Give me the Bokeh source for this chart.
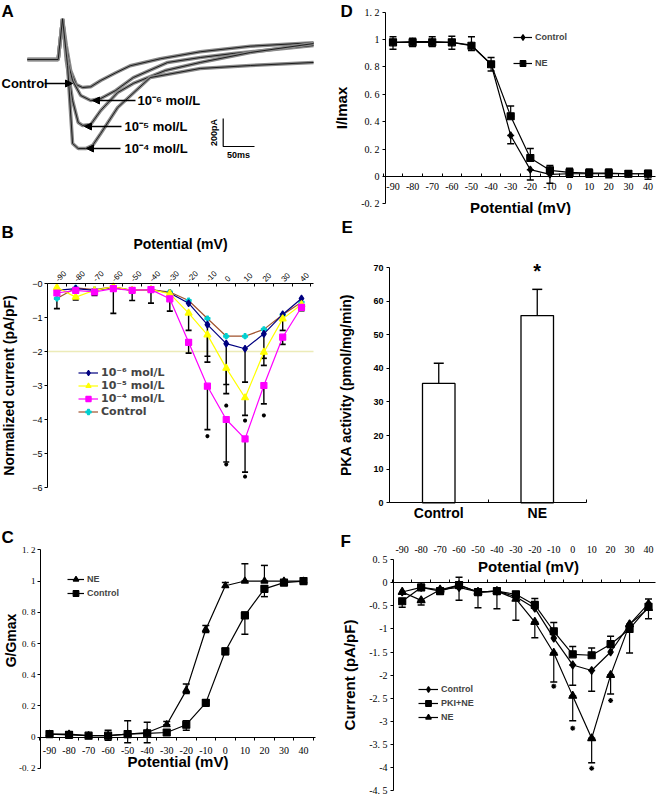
import math
from types import SimpleNamespace
from bokeh.plotting import figure
from bokeh.layouts import row, column
from bokeh.models import (Range1d, LinearAxis, FixedTicker, Label, Arrow, NormalHead,
                          Legend, LegendItem)
from bokeh.core.properties import value
from bokeh.embed import file_html
from bokeh.resources import INLINE

# ======================= DATA =======================
potentials = [-90, -80, -70, -60, -50, -40, -30, -20, -10, 0, 10, 20, 30, 40]
potential_labels = ["-90", "-80", "-70", "-60", "-50", "-40", "-30", "-20", "-10", "0", "10", "20", "30", "40"]
potential_bounds = [-95, -85, -75, -65, -55, -45, -35, -25, -15, -5, 5, 15, 25, 35, 45]

# Panel A: current traces (time ms, current pA)
a_names = ["Control", "10⁻⁶ mol/L", "10⁻⁵ mol/L", "10⁻⁴ mol/L"]
a_ctrl_t = [0, 49, 56, 62, 69, 78, 88, 101, 117, 141, 164, 212, 276, 356, 457]
a_ctrl_i = [0, 0, 290, 100, -80, -180, -200, -195, -150, -95, -45, 5, 55, 95, 120]
a_e6_t = [0, 49, 56, 62, 72, 85, 101, 117, 141, 169, 224, 276, 329, 457]
a_e6_i = [0, 0, 290, 29, -150, -257, -293, -279, -221, -129, -21, 14, 43, 100]
a_e5_t = [0, 49, 56, 62, 72, 81, 88, 101, 117, 144, 169, 220, 276, 356, 457]
a_e5_i = [0, 0, 290, -7, -293, -450, -471, -464, -364, -236, -171, -79, -21, 50, 114]
a_e4_t = [0, 49, 56, 64, 72, 81, 93, 104, 117, 144, 196, 276, 356, 457]
a_e4_i = [0, 0, 290, -43, -600, -636, -636, -614, -528, -343, -129, -64, -43, -21]
a_scale_ms = 50
a_scale_pA = 200

# Panel B: normalized current (pA/pF)
b_names = ["10⁻⁶ mol/L", "10⁻⁵ mol/L", "10⁻⁴ mol/L", "Control"]
b_e6 = [-0.2, -0.15, -0.2, -0.12, -0.2, -0.18, -0.28, -0.58, -1.21, -1.77, -1.92, -1.48, -0.91, -0.44]
b_e5 = [-0.12, -0.4, -0.2, -0.1, -0.2, -0.18, -0.3, -0.87, -1.51, -2.49, -3.36, -2.02, -1.04, -0.62]
b_e4 = [-0.28, -0.2, -0.25, -0.15, -0.2, -0.18, -0.45, -1.73, -3.02, -4.0, -4.57, -3.0, -1.58, -0.7]
b_ctrl = [-0.44, -0.13, -0.18, -0.1, -0.2, -0.18, -0.25, -0.5, -1.03, -1.55, -1.55, -1.35, -0.92, -0.55]
b_err_x = [-90, -80, -70, -60, -50, -40, -30, -20, -20, -10, -10, -10, 0, 0, 0, 10, 10, 10, 20, 20, 20, 30, 30, 40]
b_err_hi = [-0.44, -0.38, -0.2, -0.15, -0.2, -0.2, -0.45, -0.87, -1.73, -1.21, -1.51, -3.02, -1.77, -2.49, -4.0,
            -1.92, -3.36, -4.57, -1.48, -2.02, -3.0, -1.04, -1.58, -0.7]
b_err_lo = [-0.74, -0.48, -0.35, -0.88, -0.5, -0.58, -0.81, -1.38, -2.05, -2.14, -2.31, -4.3, -2.97, -3.24, -5.25,
            -2.9, -3.88, -5.55, -2.2, -2.41, -3.54, -1.38, -1.79, -0.8]
b_star_x = [-10, 0, 0, 10, 10, 20]
b_star_y = [-4.49, -3.59, -5.32, -4.03, -5.68, -3.88]
b_ref_level = -2
b_yticks = [0, -1, -2, -3, -4, -5, -6]
b_ytick_labels = ["−0", "−1", "−2", "−3", "−4", "−5", "−6"]

# Panel C: G/Gmax
c_ne = [0.02, 0.02, 0.01, 0.01, 0.02, 0.03, 0.08, 0.30, 0.69, 0.97, 1.0, 1.0, 1.0, 1.0]
c_ctrl = [0.02, 0.015, 0.01, 0.01, 0.02, 0.025, 0.03, 0.08, 0.22, 0.55, 0.78, 0.95, 0.99, 1.0]
c_err_x = [-60, -50, -40, -30, -20, -20, -10, -10, 0, 0, 10, 10, 20, 20]
c_err_hi = [0.045, 0.105, 0.095, 0.1, 0.34, 0.105, 0.715, 0.235, 0.99, 0.57, 1.11, 0.8, 1.1, 0.96]
c_err_lo = [-0.02, -0.035, -0.035, 0.08, 0.28, 0.045, 0.67, 0.21, 0.96, 0.53, 1.0, 0.66, 1.0, 0.9]
gi_ticks = [-0.2, 0.0, 0.2, 0.4, 0.6, 0.8, 1.0, 1.2]
gi_tick_labels = ["-0. 2", "0", "0. 2", "0. 4", "0. 6", "0. 8", "1", "1. 2"]

# Panel D: I/Imax
d_ctrl = [0.98, 0.985, 0.985, 0.98, 0.96, 0.82, 0.30, 0.05, 0.015, 0.02, 0.02, 0.02, 0.02, 0.02]
d_ne = [0.98, 0.98, 0.98, 0.98, 0.955, 0.82, 0.44, 0.135, 0.045, 0.03, 0.025, 0.025, 0.02, 0.02]
d_err_x = [-90, -80, -70, -60, -50, -40, -30, -30, -20, -20, -10, 0, 10, 20, 30, 40]
d_err_hi = [1.02, 1.01, 1.02, 1.025, 1.02, 0.87, 0.515, 0.30, 0.205, 0.05, 0.08, 0.06, 0.055, 0.055, 0.04, 0.045]
d_err_lo = [0.93, 0.95, 0.95, 0.93, 0.92, 0.77, 0.44, 0.24, 0.135, -0.025, -0.05, -0.005, -0.005, -0.01, 0.0, -0.02]

# Panel E: PKA activity
e_categories = ["Control", "NE"]
e_values = [35.5, 55.7]
e_errors = [6.0, 7.8]
e_star_category = "NE"
e_star_y = 69
e_yticks = [0, 10, 20, 30, 40, 50, 60, 70]

# Panel F: current (pA/pF)
f_ctrl = [-0.2, -0.1, -0.15, -0.1, -0.2, -0.18, -0.3, -0.55, -1.2, -1.78, -1.9, -1.5, -0.9, -0.45]
f_pki = [-0.4, -0.1, -0.18, -0.05, -0.2, -0.18, -0.25, -0.48, -1.05, -1.55, -1.57, -1.33, -1.0, -0.52]
f_ne = [-0.2, -0.38, -0.15, -0.05, -0.2, -0.18, -0.35, -0.85, -1.52, -2.45, -3.37, -2.0, -0.9, -0.55]
f_err_x = [-90, -80, -60, -50, -40, -30, -20, -20, -10, -10, 0, 0, 0, 10, 10, 10, 20, 20, 30, 40]
f_err_hi = [-0.4, -0.38, 0.12, -0.2, -0.18, -0.3, -0.34, -0.85, -0.86, -1.52, -1.38, -1.78, -2.45,
            -1.41, -1.9, -3.37, -1.16, -2.0, -0.9, -0.35]
f_err_lo = [-0.53, -0.48, -0.38, -0.54, -0.56, -0.81, -0.48, -1.19, -1.05, -2.15, -1.55, -2.22, -2.99,
            -1.57, -2.35, -3.9, -1.33, -2.41, -1.52, -0.78]
f_star_x = [-10, 0, 10, 20]
f_star_y = [-2.24, -3.15, -4.02, -2.55]
f_yticks = [0.5, 0.0, -0.5, -1.0, -1.5, -2.0, -2.5, -3.0, -3.5, -4.0, -4.5]
f_ytick_labels = ["0. 5", "0", "-0. 5", "-1", "-1. 5", "-2", "-2. 5", "-3", "-3. 5", "-4", "-4. 5"]

# ======================= LAYOUT HELPERS =======================
FONT = "Liberation Sans"
SERIF = "Liberation Serif"
LW, RW = 330, 326


def make_cal(ox, oy, W, H, xcal, ycal):
    (xv1, xr1), (xv2, xr2) = xcal
    (yv1, yr1), (yv2, yr2) = ycal
    lx = lambda r: r - ox
    ly = lambda r: r - oy
    sx = (xv2 - xv1) / (lx(xr2) - lx(xr1))
    sy = (yv2 - yv1) / (ly(yr2) - ly(yr1))
    gx = lambda l: xv1 + (l - lx(xr1)) * sx
    gy = lambda l: yv1 + (l - ly(yr1)) * sy
    return SimpleNamespace(W=W, H=H, lx=lx, ly=ly,
                           x=lambda r: gx(lx(r)), y=lambda r: gy(ly(r)),
                           xr=Range1d(gx(0), gx(W)), yr=Range1d(gy(H), gy(0)))


calA = make_cal(0, 0, LW, 180, ((0, 27), (50, 58.3)), ((0, 59), (-200, 87)))
calB = make_cal(0, 180, LW, 320, ((-90, 56.4), (40, 301)), ((0, 283), (-6, 487)))
calC = make_cal(0, 500, LW, 297, ((-90, 49), (40, 303)), ((0, 736.7), (1.2, 549.3)))
calD = make_cal(330, 0, RW, 215, ((-90, 392.5), (40, 647.5)), ((0, 176), (1.2, 11.7)))
calE = make_cal(330, 215, RW, 306, ((0, 389), (2, 586)), ((0, 502.3), (70, 267)))
calF = make_cal(330, 521, RW, 276, ((-90, 401.7), (40, 648)), ((0, 582.3), (-4.5, 790)))


def new_fig(c):
    p = figure(width=c.W, height=c.H, x_range=c.xr, y_range=c.yr, output_backend="svg",
               toolbar_location=None, x_axis_location=None, y_axis_location=None,
               min_border_left=0, min_border_right=0, min_border_top=0, min_border_bottom=0)
    p.outline_line_color = None
    p.grid.visible = False
    p.background_fill_color = "white"
    p.border_fill_color = "white"
    return p


def style_axis(ax, font, size, bold=False, title_size=14):
    ax.axis_line_color = "black"
    ax.axis_line_width = 1
    ax.major_tick_line_color = "black"
    ax.minor_tick_line_color = "black"
    ax.major_label_text_font = font
    ax.major_label_text_font_size = f"{size}px"
    ax.major_label_text_font_style = "bold" if bold else "normal"
    ax.major_label_text_color = "black"
    ax.axis_label_text_font = FONT
    ax.axis_label_text_font_style = "bold"
    ax.axis_label_text_font_size = f"{title_size}px"
    ax.axis_label_text_color = "black"


def y_axis(p, xpos, bounds, ticks, labels, title, font, size, bold=False,
           label_standoff=3, title_standoff=8, title_size=14):
    ax = LinearAxis(fixed_location=xpos, bounds=bounds, ticker=FixedTicker(ticks=ticks),
                    major_label_overrides=dict(zip(ticks, labels)) if labels else {},
                    axis_label=title, major_tick_in=0, major_tick_out=3,
                    minor_tick_in=0, minor_tick_out=0,
                    major_label_standoff=label_standoff, axis_label_standoff=title_standoff)
    style_axis(ax, font, size, bold, title_size)
    p.add_layout(ax, "left")
    return ax


def text(p, x, y, s, size, bold=True, align="left", baseline="middle", angle=0, font=FONT):
    p.add_layout(Label(x=x, y=y, text=s, text_font=font, text_font_size=f"{size}px",
                       text_font_style="bold" if bold else "normal", text_align=align,
                       text_baseline=baseline, angle=angle, text_color="black"))


def series(p, xs, ys, color, marker, size, mcolor=None, lw=1.2):
    l = p.line(xs, ys, line_color=color, line_width=lw)
    mc = mcolor or color
    m = p.scatter(xs, ys, marker=marker, size=size, fill_color=mc, line_color=mc, line_width=1.2)
    return [l, m]


def error_bars(p, xs, his, los, cap, both=False, lw=1.2):
    p.segment(xs, his, xs, los, line_color="black", line_width=lw)
    p.scatter(xs, los, marker="dash", size=cap, line_color="black", line_width=lw + 0.3)
    if both:
        p.scatter(xs, his, marker="dash", size=cap, line_color="black", line_width=lw + 0.3)


def add_legend(p, c, items, ref_x, ref_y_bottom, font_size, label_h, spacing, glyph_w, font=FONT):
    lg = Legend(items=[LegendItem(label=l, renderers=r) for l, r in items],
                location=(c.lx(ref_x), c.H - c.ly(ref_y_bottom)),
                background_fill_alpha=0, border_line_alpha=0, padding=0, margin=0,
                spacing=spacing, label_height=label_h, glyph_height=label_h, glyph_width=glyph_w,
                label_text_font=font, label_text_font_style="bold",
                label_text_font_size=f"{font_size}px", label_standoff=3)
    p.add_layout(lg)


# ======================= PANEL A =======================
pA = new_fig(calA)
for t, i in [(a_ctrl_t, a_ctrl_i), (a_e6_t, a_e6_i), (a_e5_t, a_e5_i), (a_e4_t, a_e4_i)]:
    pA.line(t, i, line_color="#8a8a8a", line_width=3.5)
    pA.line(t, i, line_color="#111111", line_width=0.9)

# arrows + labels: (text-left ref x, ref y, arrow start ref x, arrow tip ref x)
a_label_pos = [(1, 83, 44, 72), (137, 100, 135, 92), (124, 126, 121, 84), (124, 148, 120, 86)]
for name, (tx, ty, ax0, ax1) in zip(a_names, a_label_pos):
    text(pA, calA.x(tx), calA.y(ty), name, 13)
    pA.add_layout(Arrow(x_start=calA.x(ax0), y_start=calA.y(ty), x_end=calA.x(ax1), y_end=calA.y(ty),
                        line_color="black", line_width=1.5,
                        end=NormalHead(size=7, fill_color="black", line_color="black")))
sb_t, sb_i = calA.x(222.7), calA.y(146)
pA.line([sb_t, sb_t, sb_t + a_scale_ms], [sb_i + a_scale_pA, sb_i, sb_i], line_color="black", line_width=1.2)
text(pA, calA.x(213), calA.y(132), f"{a_scale_pA}pA", 9, align="center", angle=math.pi / 2)
text(pA, calA.x(238), calA.y(154), f"{a_scale_ms}ms", 9, align="center")
text(pA, calA.x(1), calA.y(1), "A", 17, baseline="top")

# ======================= PANEL B =======================
pB = new_fig(calB)
bx0, bx1 = calB.x(47), calB.x(313)
y_axis(pB, bx0, (-6, 0), b_yticks, b_ytick_labels, "Normalized current (pA/pF)", FONT, 9,
       label_standoff=2, title_standoff=12)
xB = LinearAxis(fixed_location=0, bounds=(bx0, bx1),
                ticker=FixedTicker(ticks=potentials, minor_ticks=potential_bounds),
                major_label_overrides=dict(zip(potentials, potential_labels)),
                axis_label="Potential (mV)", major_tick_in=0, major_tick_out=0,
                minor_tick_in=3, minor_tick_out=0, major_label_orientation=math.pi / 4,
                major_label_standoff=3, axis_label_standoff=14)
style_axis(xB, FONT, 8)
pB.add_layout(xB, "above")
pB.segment([bx0], [b_ref_level], [bx1], [b_ref_level], line_color="#ecebb8", line_width=1.3)
error_bars(pB, b_err_x, b_err_hi, b_err_lo, 6, lw=1.4)
pB.scatter(b_star_x, b_star_y, marker="asterisk", size=4, line_color="black", line_width=1.3)
rB_c = series(pB, potentials, b_ctrl, "#a0522d", "plus", 5, mcolor="#00d0d0")
rB_6 = series(pB, potentials, b_e6, "#000080", "diamond", 7)
rB_5 = series(pB, potentials, b_e5, "#ffff00", "triangle", 7)
rB_4 = series(pB, potentials, b_e4, "#ff00ff", "square", 6)
add_legend(pB, calB, list(zip(b_names, [rB_6, rB_5, rB_4, rB_c])), 78, 417.5, 11, 13, -2, 20,
           font="DejaVu Sans")
text(pB, calB.x(1), calB.y(222), "B", 17, baseline="top")

# ======================= PANEL C =======================
pC = new_fig(calC)
cx0, cx1 = calC.x(40), calC.x(315)
y_axis(pC, cx0, (-0.2, 1.2), gi_ticks, gi_tick_labels, None, SERIF, 9,
       label_standoff=2, title_standoff=2, title_size=14)
text(pC, calC.x(10), calC.y(640), "G/Gmax", 14, align="center", angle=math.pi / 2)
xC = LinearAxis(fixed_location=0, bounds=(cx0, cx1),
                ticker=FixedTicker(ticks=potentials, minor_ticks=potential_bounds),
                major_label_overrides=dict(zip(potentials, potential_labels)),
                axis_label="Potential (mV)", major_tick_in=0, major_tick_out=0,
                minor_tick_in=0, minor_tick_out=3, major_label_standoff=7, axis_label_standoff=-5)
style_axis(xC, SERIF, 10, title_size=15)
pC.add_layout(xC, "below")
error_bars(pC, c_err_x, c_err_hi, c_err_lo, 7, both=True)
rC_ne = series(pC, potentials, c_ne, "black", "triangle", 7)
rC_c = series(pC, potentials, c_ctrl, "black", "square", 7)
add_legend(pC, calC, [("NE", rC_ne), ("Control", rC_c)], 67, 600, 9, 14, 0, 17)
text(pC, calC.x(1), calC.y(527), "C", 17, baseline="top")

# ======================= PANEL D =======================
pD = new_fig(calD)
dx0, dx1 = calD.x(385), calD.x(655)
y_axis(pD, dx0, (-0.2, 1.2), gi_ticks, gi_tick_labels, "I/Imax", SERIF, 10,
       label_standoff=3, title_standoff=8, title_size=15)
xD = LinearAxis(fixed_location=0, bounds=(dx0, dx1),
                ticker=FixedTicker(ticks=potentials, minor_ticks=potential_bounds),
                major_label_overrides=dict(zip(potentials, potential_labels)),
                axis_label="Potential (mV)", major_tick_in=0, major_tick_out=0,
                minor_tick_in=3, minor_tick_out=0, major_label_standoff=6, axis_label_standoff=6)
style_axis(xD, SERIF, 10, title_size=15)
pD.add_layout(xD, "below")
error_bars(pD, d_err_x, d_err_hi, d_err_lo, 7, both=True)
rD_c = series(pD, potentials, d_ctrl, "black", "diamond", 7)
rD_ne = series(pD, potentials, d_ne, "black", "square", 7)
add_legend(pD, calD, [("Control", rD_c), ("NE", rD_ne)], 513, 70, 9, 14, 12, 19)
text(pD, calD.x(340), calD.y(1), "D", 17, baseline="top")

# ======================= PANEL E =======================
pE = new_fig(calE)
e_x = [i + 0.5 for i in range(len(e_categories))]
e_edges = list(range(len(e_categories) + 1))
y_axis(pE, 0, (0, e_yticks[-1]), e_yticks, None, "PKA activity (pmol/mg/min)", FONT, 9, bold=True,
       label_standoff=3, title_standoff=16, title_size=14)
xE = LinearAxis(fixed_location=0, bounds=(e_edges[0], e_edges[-1]),
                ticker=FixedTicker(ticks=e_x, minor_ticks=e_edges),
                major_label_overrides=dict(zip(e_x, e_categories)),
                major_tick_in=0, major_tick_out=0, minor_tick_in=3, minor_tick_out=0,
                major_label_standoff=2)
style_axis(xE, FONT, 14, bold=True)
pE.add_layout(xE, "below")
e_tops = [v + e for v, e in zip(e_values, e_errors)]
pE.segment(e_x, e_values, e_x, e_tops, line_color="black", line_width=1.3)
pE.scatter(e_x, e_tops, marker="dash", size=10, line_color="black", line_width=1.5)
pE.vbar(x=e_x, top=e_values, width=0.33, fill_color="white", line_color="black", line_width=1.3)
pE.text(x=[e_x[e_categories.index(e_star_category)]], y=[e_star_y], text=["*"],
        text_font=value(FONT), text_font_size=value("20px"), text_font_style="bold",
        text_align="center", text_baseline="middle", text_color="black")
text(pE, calE.x(341), calE.y(217), "E", 17, baseline="top")

# ======================= PANEL F =======================
pF = new_fig(calF)
fx0, fx1 = calF.x(393), calF.x(655)
y_axis(pF, fx0, (f_yticks[-1], f_yticks[0]), f_yticks, f_ytick_labels, "Current (pA/pF)", SERIF, 10,
       label_standoff=3, title_standoff=8, title_size=15)
xF_top = LinearAxis(fixed_location=f_yticks[0], ticker=FixedTicker(ticks=potentials),
                    major_label_overrides=dict(zip(potentials, potential_labels)),
                    major_tick_in=0, major_tick_out=0, minor_tick_in=0, minor_tick_out=0,
                    major_label_standoff=7)
style_axis(xF_top, SERIF, 10)
xF_top.axis_line_color = None
pF.add_layout(xF_top, "above")
xF_zero = LinearAxis(fixed_location=0, bounds=(fx0, fx1),
                     ticker=FixedTicker(ticks=[], minor_ticks=potential_bounds),
                     major_tick_in=0, major_tick_out=0, minor_tick_in=3, minor_tick_out=0)
style_axis(xF_zero, SERIF, 10)
xF_zero.major_label_text_font_size = "0px"
pF.add_layout(xF_zero, "below")
text(pF, calF.x(528), calF.y(566), "Potential (mV)", 15, align="center")
error_bars(pF, f_err_x, f_err_hi, f_err_lo, 7, both=True)
pF.scatter(f_star_x, f_star_y, marker="asterisk", size=5, line_color="black", line_width=1.2)
rF_c = series(pF, potentials, f_ctrl, "black", "diamond", 8)
rF_p = series(pF, potentials, f_pki, "black", "square", 7)
rF_n = series(pF, potentials, f_ne, "black", "triangle", 8)
add_legend(pF, calF, [("Control", rF_c), ("PKI+NE", rF_p), ("NE", rF_n)], 418, 724, 9, 14, 0, 20)
text(pF, calF.x(340), calF.y(531), "F", 17, baseline="top")

layout = row(column(pA, pB, pC), column(pD, pE, pF))
open("out.html", "w").write(file_html(layout, INLINE))
